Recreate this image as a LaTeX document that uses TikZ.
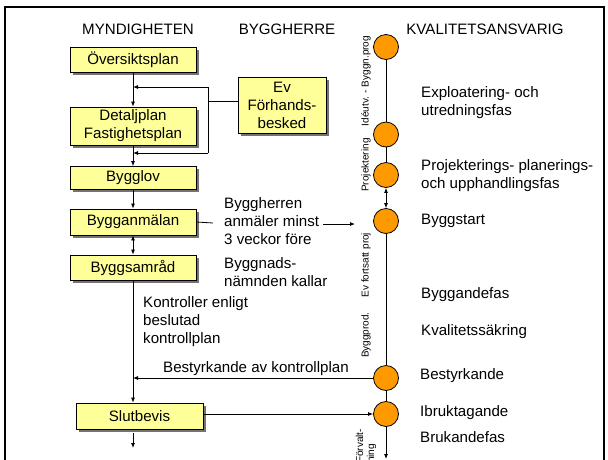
\documentclass[tikz,border=0pt]{standalone}
\usepackage{fontspec}
\setmainfont{Liberation Sans}
\usetikzlibrary{shadows,arrows.meta}
\definecolor{boxyellow}{HTML}{FFFF99}
\definecolor{dotorange}{HTML}{FF9900}
\begin{document}
\begin{tikzpicture}[x=1pt,y=-1pt,
  font=\fontsize{15.1}{18}\selectfont,
  box/.style={draw=black, line width=0.8pt, fill=boxyellow, minimum width=126pt, minimum height=25pt, inner sep=1pt, align=center,
    drop shadow={shadow xshift=2.5pt, shadow yshift=-2.5pt, fill=black!55, opacity=1}},
  dot/.style={circle, draw=black, line width=0.8pt, fill=dotorange, minimum size=25pt, inner sep=0pt},
  conn/.style={line width=0.8pt},
  arr/.style={conn, -{Latex[length=5pt,width=4pt]}},
  darr/.style={conn, {Latex[length=5pt,width=4pt]}-{Latex[length=5pt,width=4pt]}},
  txt/.style={anchor=west, align=left, inner sep=0pt},
  vlab/.style={rotate=90, font=\fontsize{10}{11}\selectfont, inner sep=0pt},
]
\useasboundingbox (0,0) rectangle (608,459);
\draw[line width=2.5pt] (5,470) -- (5,7) -- (604,7) -- (604,470);

% headers
\node (hm) at (138,29) {MYNDIGHETEN};
\node (hb) at (287,29) {BYGGHERRE};
\node (hk) at (485,29) {KVALITETSANSVARIG};

% authority boxes
\node[box] (o) at (133,59.5) {Översiktsplan};
\node[box, minimum height=38pt] (d) at (133,126) {Detaljplan\\Fastighetsplan};
\node[box, minimum height=23pt] (g) at (133,178) {Bygglov};
\node[box, minimum height=26pt] (a) at (133,222) {Bygganmälan};
\node[box] (s) at (133,267.5) {Byggsamråd};
\node[box, minimum width=127pt, minimum height=26pt] (sb) at (139.5,416) {Slutbevis};
\node[box, minimum width=88pt, minimum height=56pt, inner sep=0pt] (f) at (282,105) {Ev\\Förhands-\\besked};

% main flow
\coordinate (r1) at (208,87);
\coordinate (r2) at (208,153);
\coordinate (fj) at (208,101);
\draw[arr] (o) -- (d);
\draw[conn] (fj) -- (fj -| f.west);
\draw[conn] (r1) -- (r2);
\draw[arr] (r1) -- (r1 -| o.south);
\draw[arr] (r2) -- (r2 -| o.south);
\draw[arr] (d) -- (g);
\draw[arr] (g) -- (a);
\draw[darr] (a) -- (s);
\draw[arr] (s.south) -- (s.south |- sb.north);
\coordinate (e1) at (133,433);
\coordinate (e2) at (133,448);
\draw[arr] (e1) -- (e2);

% timeline
\node[dot] (c1) at (386,47) {};
\node[dot] (c2) at (386,134.5) {};
\node[dot] (c3) at (386,175) {};
\node[dot] (c4) at (386,221) {};
\node[dot] (c5) at (386,378) {};
\node[dot] (c6) at (386,414) {};
\coordinate (cend) at (386,459);
\draw[conn] (c1) -- (c2);
\draw[conn] (c2) -- (c3);
\draw[darr] (c3) -- (c4);
\draw[conn] (c4) -- (c5);
\draw[conn] (c5) -- (c6);
\draw[arr] (c6) -- (cend);

% Bygganmälan message
\coordinate (ab) at (213,223);
\coordinate (aa1) at (323,224);
\coordinate (aa2) at (355,224);
\draw[conn] (a.east) -- (ab);
\draw[arr] (aa1) -- (aa2);
\node[txt] (byh) at (224,221) {Byggherren\\anmäler minst\\3 veckor före};
\node[txt] (bn) at (224,272) {Byggnads-\\nämnden kallar};
\node[txt] (ko) at (143,322) {Kontroller enligt\\beslutad\\kontrollplan};

% Bestyrkande / Slutbevis connectors
\draw[arr] (c5.west) -- (c5.west -| s.south);
\node[txt, anchor=south west] (bk) at (163,376) {Bestyrkande av kontrollplan};
\draw[arr] (sb.east |- c6.west) -- (c6.west);

% vertical phase labels
\node[vlab] (v1) at (366,81) {Idéutv. - Byggn.prog};
\node[vlab] (v2) at (366,165) {Projektering};
\node[vlab] (v3) at (366,265) {Ev fortsatt proj};
\node[vlab] (v4) at (366,335) {Byggprod.};
\node[vlab, align=left, anchor=west] (v5) at (366,463) {Förvalt-\\ning};

% phase texts
\node[txt] (t1) at (421,103) {Exploatering- och\\utredningsfas};
\node[txt] (t2) at (421,175.5) {Projekterings- planerings-\\och upphandlingsfas};
\node[txt] (t3) at (421,221) {Byggstart};
\node[txt] (t4) at (421,295) {Byggandefas};
\node[txt] (t5) at (421,332) {Kvalitetssäkring};
\node[txt] (t6) at (420,376) {Bestyrkande};
\node[txt] (t7) at (420,413) {Ibruktagande};
\node[txt] (t8) at (420,437) {Brukandefas};
\end{tikzpicture}
\end{document}
